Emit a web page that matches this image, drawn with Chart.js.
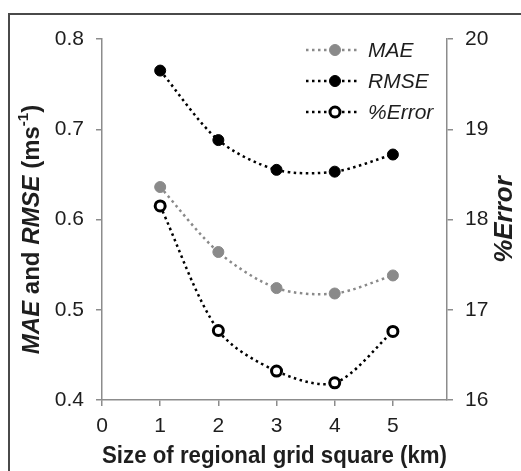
<!DOCTYPE html>
<html>
<head>
<meta charset="utf-8">
<script src="https://cdn.jsdelivr.net/npm/chart.js@4.4.1/dist/chart.umd.min.js"></script>
<style>
  html, body { margin: 0; padding: 0; background: #fff; }
  #wrap { position: relative; width: 521px; height: 471px; overflow: hidden; }
  #frame { position: absolute; left: 8px; top: 13px; width: 600px; height: 600px;
           border-top: 2px solid #4a4a4a; border-left: 2px solid #4a4a4a; }
  #c { position: absolute; left: 0; top: 0; }
</style>
</head>
<body>
<div id="wrap">
  <div id="frame"></div>
  <canvas id="c" width="521" height="471"></canvas>
</div>
<script>
// Data
const gridSize = [1, 2, 3, 4, 5];
const maeValues = [0.636, 0.564, 0.524, 0.518, 0.538];
const rmseValues = [0.765, 0.688, 0.655, 0.653, 0.672];
const pctErrorValues = [18.15, 16.77, 16.32, 16.19, 16.76];

const xTicks = [0, 1, 2, 3, 4, 5];
const leftTicks = [0.4, 0.5, 0.6, 0.7, 0.8];
const rightTicks = [16, 17, 18, 19, 20];

const seriesLabels = ['MAE', 'RMSE', '%Error'];

const FONT = '"Liberation Sans", Arial, sans-serif';
const AXIS_GREY = '#8c8c8c';
const TEXT = '#1e1e1e';
const DASH = [2.5, 3.5];

function pts(ys) {
  return gridSize.map((x, i) => ({ x: x, y: ys[i] }));
}

// legend + the two vertical titles (mixed styles, so drawn by hand)
const decorations = {
  id: 'decorations',
  afterDraw(chart) {
    const ctx = chart.ctx;
    const area = chart.chartArea;
    ctx.save();

    // legend, top right inside the plot
    const rowY = [50, 81, 112];
    chart.data.datasets.forEach((ds, i) => {
      const y = rowY[i];
      ctx.save();
      ctx.strokeStyle = ds.borderColor;
      ctx.lineWidth = ds.borderWidth;
      ctx.setLineDash(DASH);
      ctx.beginPath();
      ctx.moveTo(306, y);
      ctx.lineTo(360, y);
      ctx.stroke();
      ctx.setLineDash([]);
      ctx.beginPath();
      ctx.arc(335, y, ds.pointRadius, 0, Math.PI * 2);
      ctx.fillStyle = ds.pointBackgroundColor;
      ctx.fill();
      ctx.lineWidth = ds.pointBorderWidth;
      ctx.strokeStyle = ds.pointBorderColor;
      ctx.stroke();
      ctx.restore();

      ctx.fillStyle = TEXT;
      ctx.font = 'italic 21px ' + FONT;
      ctx.textAlign = 'left';
      ctx.textBaseline = 'middle';
      ctx.fillText(ds.label, 368, y + 1);
    });

    // left title: "MAE and RMSE (ms-1)"
    const parts = [
      { t: 'MAE', f: 'italic bold 24px ' + FONT, dy: 0 },
      { t: ' and ', f: 'bold 24px ' + FONT, dy: 0 },
      { t: 'RMSE', f: 'italic bold 24px ' + FONT, dy: 0 },
      { t: ' (ms', f: 'bold 24px ' + FONT, dy: 0 },
      { t: '-1', f: 'bold 15px ' + FONT, dy: -8 },
      { t: ')', f: 'bold 24px ' + FONT, dy: 0 }
    ];
    let total = 0;
    parts.forEach(p => { ctx.font = p.f; p.w = ctx.measureText(p.t).width; total += p.w; });
    ctx.save();
    ctx.translate(32, (area.top + area.bottom) / 2 + 10);
    ctx.rotate(-Math.PI / 2);
    ctx.fillStyle = TEXT;
    ctx.textAlign = 'left';
    ctx.textBaseline = 'middle';
    let x = -total / 2;
    parts.forEach(p => {
      ctx.font = p.f;
      ctx.fillText(p.t, x, p.dy);
      x += p.w;
    });
    ctx.restore();

    // right title, reads bottom-up
    ctx.save();
    ctx.translate(505, (area.top + area.bottom) / 2);
    ctx.rotate(-Math.PI / 2);
    ctx.fillStyle = TEXT;
    ctx.font = 'italic bold 26px ' + FONT;
    ctx.textAlign = 'center';
    ctx.textBaseline = 'middle';
    ctx.fillText('%Error', 0, 0);
    ctx.restore();

    ctx.restore();
  }
};

const tickFont = { family: FONT, size: 21 };

new Chart(document.getElementById('c'), {
  type: 'line',
  data: {
    datasets: [
      {
        label: seriesLabels[0],
        data: pts(maeValues),
        yAxisID: 'y',
        borderColor: '#8a8a8a',
        borderWidth: 2.5,
        borderDash: DASH,
        tension: 0.3,
        pointRadius: 5.5,
        pointBackgroundColor: '#8a8a8a',
        pointBorderColor: '#8a8a8a',
        pointBorderWidth: 1
      },
      {
        label: seriesLabels[1],
        data: pts(rmseValues),
        yAxisID: 'y',
        borderColor: '#000',
        borderWidth: 2.5,
        borderDash: DASH,
        tension: 0.3,
        pointRadius: 5.5,
        pointBackgroundColor: '#000',
        pointBorderColor: '#000',
        pointBorderWidth: 1
      },
      {
        label: seriesLabels[2],
        data: pts(pctErrorValues),
        yAxisID: 'y1',
        borderColor: '#000',
        borderWidth: 2.5,
        borderDash: DASH,
        tension: 0.3,
        pointRadius: 5,
        pointBackgroundColor: '#fff',
        pointBorderColor: '#000',
        pointBorderWidth: 3
      }
    ]
  },
  options: {
    responsive: false,
    animation: false,
    layout: { padding: { top: 39, left: 0, right: 0, bottom: 0 } },
    plugins: { legend: { display: false }, tooltip: { enabled: false } },
    scales: {
      x: {
        type: 'linear',
        min: 0,
        max: 5.93,
        afterBuildTicks: s => { s.ticks = xTicks.map(v => ({ value: v })); },
        afterFit: s => { s.height = 71; },
        ticks: { font: tickFont, color: TEXT, padding: 8 },
        grid: { drawOnChartArea: false, drawTicks: true, tickLength: 6, color: AXIS_GREY, lineWidth: 1.5 },
        border: { color: AXIS_GREY, width: 1.5 },
        title: {
          display: true,
          text: 'Size of regional grid square (km)',
          font: { family: FONT, size: 24.5, weight: 'bold' },
          color: TEXT,
          padding: { top: 0, bottom: 0 }
        }
      },
      y: {
        position: 'left',
        min: 0.4,
        max: 0.8,
        afterBuildTicks: s => { s.ticks = leftTicks.map(v => ({ value: v })); },
        afterFit: s => { s.width = 102; },
        ticks: { font: tickFont, color: TEXT, padding: 12, callback: v => v.toFixed(1) },
        grid: { drawOnChartArea: false, drawTicks: true, tickLength: 6, color: AXIS_GREY, lineWidth: 1.5 },
        border: { color: AXIS_GREY, width: 1.5 }
      },
      y1: {
        position: 'right',
        min: 16,
        max: 20,
        afterBuildTicks: s => { s.ticks = rightTicks.map(v => ({ value: v })); },
        afterFit: s => { s.width = 74; },
        ticks: { font: tickFont, color: TEXT, padding: 12 },
        grid: { drawOnChartArea: false, drawTicks: true, tickLength: 6, color: AXIS_GREY, lineWidth: 1.5 },
        border: { color: AXIS_GREY, width: 1.5 }
      }
    }
  },
  plugins: [decorations]
});
</script>
</body>
</html>
